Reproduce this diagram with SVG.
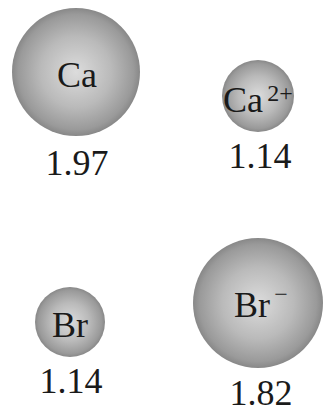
<svg xmlns="http://www.w3.org/2000/svg" width="323" height="413" viewBox="0 0 323 413">
<defs>
<radialGradient id="ball" cx="50%" cy="50%" r="50%">
<stop offset="0" stop-color="#dcdcdc"/>
<stop offset="0.55" stop-color="#bababa"/>
<stop offset="0.9" stop-color="#9a9a9a"/>
<stop offset="1" stop-color="#888888"/>
</radialGradient>
</defs>
<style>
.ball{fill:url(#ball);}
.t{font-family:"Liberation Serif","Times New Roman",serif;fill:#1a1a1a;text-anchor:middle;}
.lab{font-size:36px;}
.num{font-size:36px;}
.sup{font-size:24px;}
</style>
<rect width="323" height="413" fill="#ffffff"/>
<g id="ca">
<circle class="ball" cx="76" cy="72" r="64"/>
<text class="t lab" x="77" y="87">Ca</text>
<text class="t num" x="77" y="175">1.97</text>
</g>
<g id="ca2">
<circle class="ball" cx="258" cy="96" r="36"/>
<text class="t lab" x="243" y="112">Ca</text>
<text class="t sup" x="280" y="101">2+</text>
<text class="t num" x="260" y="168">1.14</text>
</g>
<g id="br">
<circle class="ball" cx="70" cy="322" r="35"/>
<text class="t lab" x="70" y="337">Br</text>
<text class="t num" x="71" y="393">1.14</text>
</g>
<g id="brm">
<circle class="ball" cx="258" cy="303" r="65"/>
<text class="t lab" x="252" y="317">Br</text>
<text class="t sup" x="281" y="302">−</text>
<text class="t num" x="261" y="405">1.82</text>
</g>
</svg>
